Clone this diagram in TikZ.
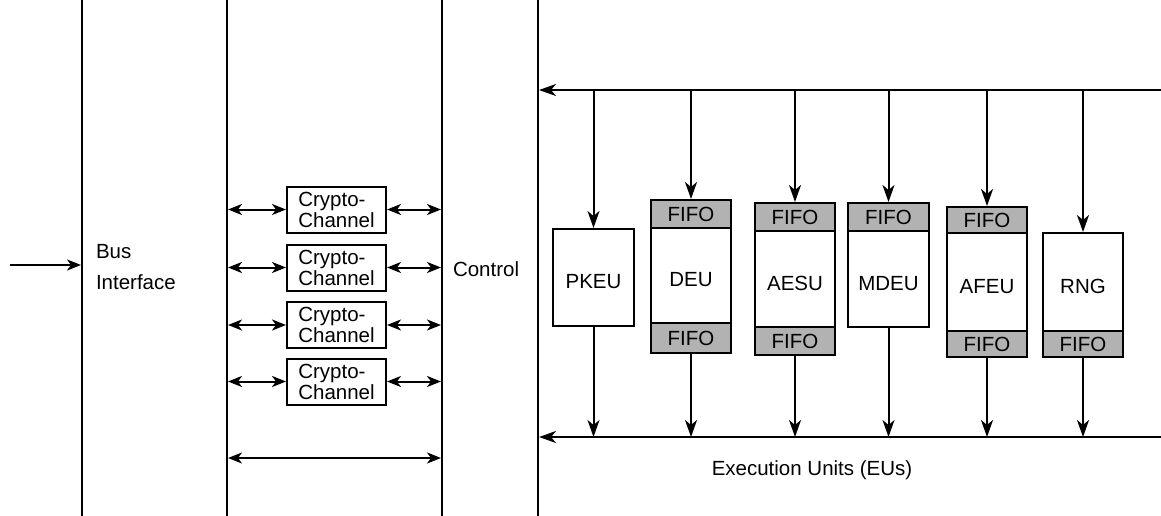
\documentclass[tikz,border=0pt]{standalone}
\usepackage{fontspec}
\setmainfont{Liberation Sans}
\usetikzlibrary{arrows.meta}
\begin{document}
\begin{tikzpicture}[x=1pt,y=-1pt,line width=2pt,
  >={Stealth[length=17pt,width=12pt,inset=5pt]},
  font=\fontsize{20.5}{21}\selectfont,
  small/.style={>={Stealth[length=14pt,width=11pt,inset=4pt]}},
  bar/.style={draw,inner sep=0pt,minimum height=560pt},
  cc/.style={draw,inner sep=0pt,align=left,minimum width=99pt,minimum height=46pt},
  eubox/.style={draw,fill=white,inner sep=0pt,minimum width=80pt,text height=22pt,text depth=0pt},
  fifo/.style={draw,fill=gray!60,inner sep=0pt,minimum width=80pt}]
\useasboundingbox (0,0) rectangle (1161,515);
\clip (0,0) rectangle (1161,515);
% big blocks
\node[bar,minimum width=145pt] (bi) at (154.5,257.5) {};
\node[anchor=base west,inner sep=0pt] (bit1) at (95,258) {Bus};
\node[anchor=base west,inner sep=0pt] (bit2) at (95,289) {Interface};
\node[bar,minimum width=96pt] (ctrl) at (490,257.5) {};
\node[anchor=base west,inner sep=0pt] (ctxt) at (452,276) {Control};
% crypto channels
\node[cc] (cc1) at (336.5,209.5) {Crypto-\\Channel};
\node[cc] (cc2) at (336.5,267.5) {Crypto-\\Channel};
\node[cc] (cc3) at (336.5,325) {Crypto-\\Channel};
\node[cc] (cc4) at (336.5,381.5) {Crypto-\\Channel};
\foreach \c in {cc1,cc2,cc3,cc4}{
  \draw[small,<->] (\c.west -| bi.east) -- (\c.west);
  \draw[small,<->] (\c.east) -- (\c.east -| ctrl.west);
}
\coordinate (bb) at (300,458);
\draw[small,<->] (bi.east |- bb) -- (ctrl.west |- bb);
\coordinate (inp) at (10,265);
\draw[small,->] (inp) -- (inp -| bi.west);
% buses
\coordinate (tb) at (1161,90);
\coordinate (bbus) at (1161,437);
\draw[->] (tb) -- (tb -| ctrl.east);
\draw[->] (bbus) -- (bbus -| ctrl.east);
% execution units
\node[eubox,minimum width=81pt,minimum height=97pt] (pkeu) at (593.5,277.5) {PKEU};
\node[fifo,minimum height=28pt] (deuf1) at (691,214) {FIFO};
\node[eubox,minimum height=95pt] (deu) at (691,275.5) {DEU};
\node[fifo,minimum height=30pt] (deuf2) at (691,338) {FIFO};
\node[fifo,minimum height=28pt] (aesuf1) at (795,217) {FIFO};
\node[eubox,minimum height=96pt] (aesu) at (795,279) {AESU};
\node[fifo,minimum height=28pt] (aesuf2) at (795,341) {FIFO};
\node[fifo,minimum width=81pt,minimum height=28pt] (mdeuf1) at (888.5,217) {FIFO};
\node[eubox,minimum width=81pt,minimum height=96pt] (mdeu) at (888.5,279) {MDEU};
\node[fifo,minimum height=26pt] (afeuf1) at (987,220) {FIFO};
\node[eubox,minimum height=98pt] (afeu) at (987,282) {AFEU};
\node[fifo,minimum height=26pt] (afeuf2) at (987,344) {FIFO};
\node[eubox,minimum height=98pt] (rng) at (1083,282) {RNG};
\node[fifo,minimum height=26pt] (rngf2) at (1083,344) {FIFO};
\foreach \t in {pkeu,deuf1,aesuf1,mdeuf1,afeuf1,rng}{
  \draw[->] (\t.north |- tb) -- (\t.north);
}
\foreach \b in {pkeu,deuf2,aesuf2,mdeu,afeuf2,rngf2}{
  \draw[->] (\b.south) -- (\b.south |- bbus);
}
\node (eul) at (812,470) {Execution Units (EUs)};
\end{tikzpicture}
\end{document}
